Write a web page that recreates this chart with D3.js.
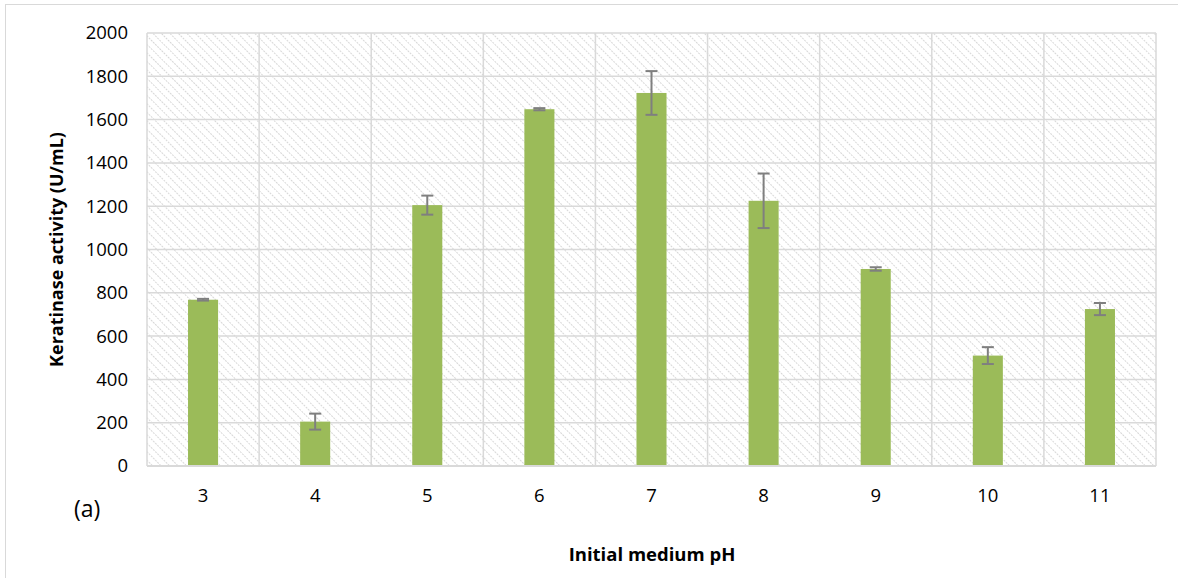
<!DOCTYPE html>
<html>
<head>
<meta charset="utf-8">
<script src="https://cdn.jsdelivr.net/npm/d3@7/dist/d3.min.js"></script>
<style>
  html, body { margin: 0; padding: 0; background: #fff; }
  svg { display: block; }
</style>
</head>
<body>
<svg id="chart" width="1178" height="578"></svg>
<script>
// Keratinase activity by initial medium pH
const phLevels = ["3", "4", "5", "6", "7", "8", "9", "10", "11"];
const activity = [768, 205, 1205, 1648, 1723, 1225, 910, 510, 725];
const activityErr = [4, 37, 44, 5, 101, 126, 8, 39, 28];
const yTicks = [0, 200, 400, 600, 800, 1000, 1200, 1400, 1600, 1800, 2000];

const svg = d3.select("#chart");
const font = "'Open Sans', sans-serif";

const plot = { left: 147, right: 1156, top: 33, bottom: 466 };

// Outer chart frame
svg.append("rect")
  .attr("x", 5.5).attr("y", 4.5)
  .attr("width", 1200).attr("height", 600)
  .attr("fill", "#fff").attr("stroke", "#d9d9d9").attr("stroke-width", 1);

const x = d3.scaleBand().domain(phLevels).range([plot.left, plot.right]).paddingInner(0).paddingOuter(0);
const y = d3.scaleLinear().domain([0, 2000]).range([plot.bottom, plot.top]);

// Diagonal hatch fill for plot background
const defs = svg.append("defs");
const pat = defs.append("pattern")
  .attr("id", "hatch").attr("patternUnits", "userSpaceOnUse")
  .attr("width", 6).attr("height", 6)
  .attr("patternTransform", "rotate(-45)");
pat.append("line")
  .attr("x1", 0).attr("y1", 0).attr("x2", 0).attr("y2", 6)
  .attr("stroke", "#d4d4d4").attr("stroke-width", 1.8)
  .attr("stroke-dasharray", "2,1");

svg.append("rect")
  .attr("x", plot.left).attr("y", plot.top)
  .attr("width", plot.right - plot.left).attr("height", plot.bottom - plot.top)
  .attr("fill", "url(#hatch)");

// Horizontal gridlines
svg.append("g").selectAll("line").data(yTicks).join("line")
  .attr("x1", plot.left).attr("x2", plot.right)
  .attr("y1", d => y(d)).attr("y2", d => y(d))
  .attr("stroke", "#d9d9d9").attr("stroke-width", 1.5);

// Vertical gridlines at category boundaries
const bounds = phLevels.map(d => x(d)).concat([plot.right]);
svg.append("g").selectAll("line").data(bounds).join("line")
  .attr("x1", d => d).attr("x2", d => d)
  .attr("y1", plot.top).attr("y2", plot.bottom)
  .attr("stroke", "#d9d9d9").attr("stroke-width", 1.5);

// Bars
const barW = x.bandwidth() * 0.268;
svg.append("g").selectAll("rect").data(phLevels).join("rect")
  .attr("x", d => x(d) + x.bandwidth() / 2 - barW / 2)
  .attr("width", barW)
  .attr("y", (d, i) => y(activity[i]))
  .attr("height", (d, i) => plot.bottom - y(activity[i]))
  .attr("fill", "#9bbb59");

// Axis base line
svg.append("line")
  .attr("x1", plot.left).attr("x2", plot.right)
  .attr("y1", plot.bottom).attr("y2", plot.bottom)
  .attr("stroke", "#d9d9d9").attr("stroke-width", 2);

// Error bars
const eb = svg.append("g").attr("stroke", "#7f7f7f").attr("stroke-width", 2);
phLevels.forEach((d, i) => {
  const cx = x(d) + x.bandwidth() / 2;
  const hi = y(activity[i] + activityErr[i]);
  const lo = y(activity[i] - activityErr[i]);
  eb.append("line").attr("x1", cx).attr("x2", cx).attr("y1", hi).attr("y2", lo);
  eb.append("line").attr("x1", cx - 6).attr("x2", cx + 6).attr("y1", hi).attr("y2", hi);
  eb.append("line").attr("x1", cx - 6).attr("x2", cx + 6).attr("y1", lo).attr("y2", lo);
});

// Y axis labels
const yAxis = d3.axisLeft(y).tickValues(yTicks).tickFormat(d3.format("d")).tickSize(0).tickPadding(19);
const gy = svg.append("g").attr("transform", `translate(${plot.left},0)`).call(yAxis);
gy.select(".domain").remove();
gy.selectAll("text").attr("font-family", font).attr("font-size", 18.5).attr("fill", "#000");

// X axis labels
const xAxis = d3.axisBottom(x).tickSize(0).tickPadding(23);
const gx = svg.append("g").attr("transform", `translate(0,${plot.bottom})`).call(xAxis);
gx.select(".domain").remove();
gx.selectAll("text").attr("font-family", font).attr("font-size", 18.5).attr("fill", "#000");

// Axis titles
svg.append("text")
  .attr("transform", `translate(63,${(plot.top + plot.bottom) / 2}) rotate(-90)`)
  .attr("text-anchor", "middle")
  .attr("font-family", font).attr("font-size", 18).attr("font-weight", "bold")
  .text("Keratinase activity (U/mL)");

svg.append("text")
  .attr("x", 652).attr("y", 561)
  .attr("text-anchor", "middle")
  .attr("font-family", font).attr("font-size", 18.5).attr("font-weight", "bold")
  .text("Initial medium pH");

// Panel label
svg.append("text")
  .attr("x", 74).attr("y", 517)
  .attr("font-family", font).attr("font-size", 23)
  .text("(a)");
</script>
</body>
</html>
